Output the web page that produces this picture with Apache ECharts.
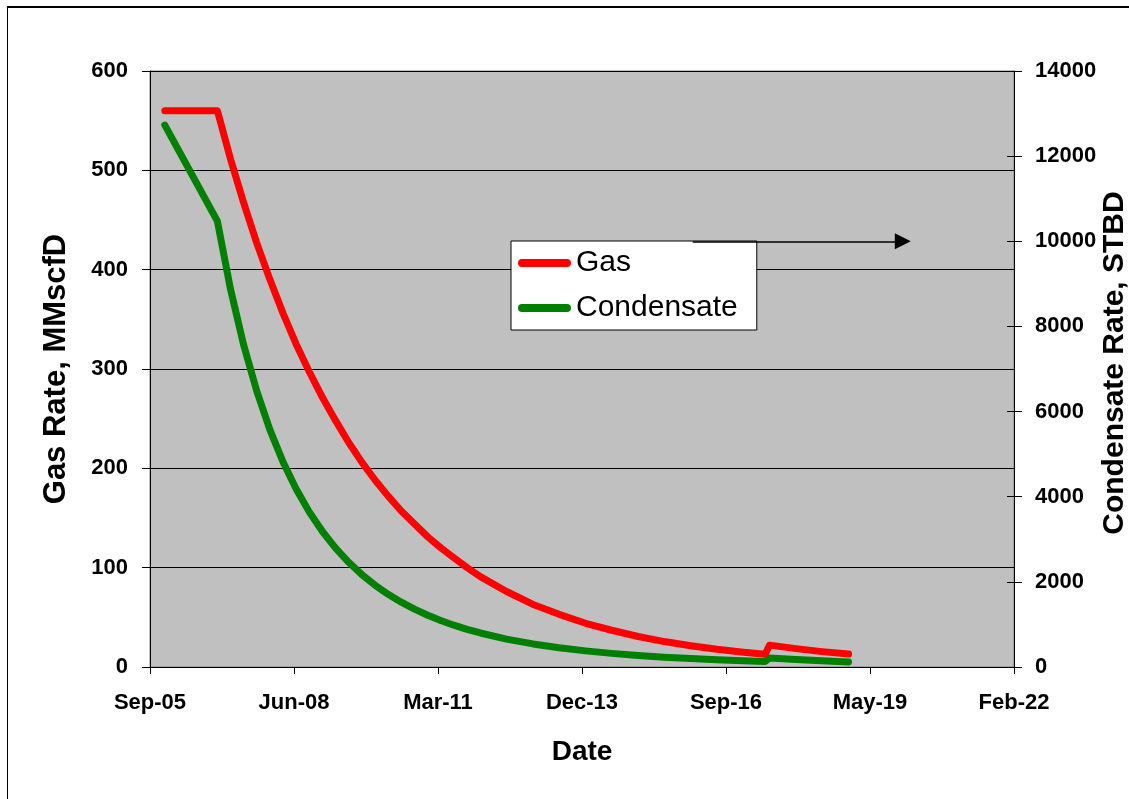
<!DOCTYPE html>
<html>
<head>
<meta charset="utf-8">
<script src="https://cdn.jsdelivr.net/npm/echarts@6/dist/echarts.min.js"></script>
<style>
html,body{margin:0;padding:0;background:#fff;}
#chart{width:1129px;height:799px;}
</style>
</head>
<body>
<div id="chart"></div>
<script>
// ---- data ----
const dates = ['2006-01-01','2007-01-01','2007-04-01','2007-07-01','2007-10-01','2008-01-01','2008-04-01','2008-07-01','2008-10-01','2009-01-01','2009-04-01','2009-07-01','2009-10-01','2010-01-01','2010-04-01','2010-07-01','2010-10-01','2011-01-01','2011-04-01','2011-07-01','2011-10-01','2012-01-01','2012-07-01','2013-01-01','2013-07-01','2014-01-01','2014-07-01','2015-01-01','2015-07-01','2016-01-01','2016-07-01','2017-01-01','2017-06-01','2017-07-01','2018-01-01','2018-07-01','2019-01-01'];
const gasRate = [560,560,512,468,427,390,356,325,297,271,248,226,206,188,172,157,144,131,120,110,100,91,76,63,53,44,37,30.7,25.6,21.4,17.8,14.8,12.8,22,18.5,15.5,13];
const condensateRate = [12730,10475,8893,7581,6486,5569,4815,4180,3638,3176,2793,2460,2169,1920,1708,1522,1359,1215,1091,982,885,799,656,542,452,379,320,271,231,198,170,147,131,210,175,145,120];
const xTickBase = '2005-09-20';   // date of the first x tick (Sep-05)
const xTickStepDays = 1000;
const monthNames = ['Jan','Feb','Mar','Apr','May','Jun','Jul','Aug','Sep','Oct','Nov','Dec'];
const arrowLevel = 10000;          // arrow points at 10000 STBD on the right axis
const arrowFromTo = ['2016-01-15','2020-01-13'];

function toUTC(s){const p=s.split('-').map(Number);return Date.UTC(p[0],p[1]-1,p[2]);}
const baseMs = toUTC(xTickBase);
function dayOffset(s){return (toUTC(s)-baseMs)/86400000;}
function fmtTick(v){const d=new Date(baseMs+v*86400000);return monthNames[d.getUTCMonth()]+'-'+String(d.getUTCFullYear()%100).padStart(2,'0');}

const gasData = dates.map((d,i)=>[dayOffset(d),gasRate[i]]);
const condData = dates.map((d,i)=>[dayOffset(d),condensateRate[i]]);

const FONT = '"Liberation Sans", Arial, sans-serif';
const chart = echarts.init(document.getElementById('chart'));
const labelStyle = {fontFamily:FONT,fontWeight:'bold',fontSize:22,color:'#000'};
const nameStyle = {fontFamily:FONT,fontWeight:'bold',fontSize:31,color:'#000'};

chart.setOption({
  animation:false,
  backgroundColor:'#fff',
  grid:{left:150,right:115,top:71,bottom:132,containLabel:false,outerBoundsMode:'none',
        show:true,backgroundColor:'#c0c0c0',borderColor:'#808080',borderWidth:1},
  legend:{
    left:511,top:241,orient:'vertical',
    backgroundColor:'#fff',borderColor:'#000',borderWidth:1,borderRadius:0,
    padding:[7,19,7,7],itemGap:15,itemWidth:53,itemHeight:8,itemTextGap:6,
    icon:'path://M4,0 L49,0 A4,4 0 0 1 49,8 L4,8 A4,4 0 0 1 4,0 Z',
    textStyle:{fontFamily:FONT,fontSize:30,color:'#000'},
    data:['Gas','Condensate']
  },
  xAxis:{
    type:'value',min:0,max:6000,interval:xTickStepDays,
    name:'Date',nameLocation:'middle',nameGap:71,nameMoveOverlap:false,
    nameTextStyle:Object.assign({},nameStyle,{fontSize:28}),
    axisLine:{show:true,onZero:false,lineStyle:{color:'#000',width:1}},
    axisTick:{show:true,length:7,lineStyle:{color:'#000'}},
    axisLabel:Object.assign({margin:25,formatter:fmtTick},labelStyle),
    splitLine:{show:false}
  },
  yAxis:[
    {type:'value',min:0,max:600,interval:100,position:'left',
     name:'Gas Rate, MMscfD',nameLocation:'middle',nameGap:78,nameMoveOverlap:false,nameTextStyle:nameStyle,
     axisLine:{show:true,lineStyle:{color:'#000',width:1}},
     axisTick:{show:true,length:8,lineStyle:{color:'#000'}},
     axisLabel:Object.assign({margin:22},labelStyle),
     splitLine:{show:true,lineStyle:{color:'#000',width:1}}},
    {type:'value',min:0,max:14000,interval:2000,position:'right',
     name:'Condensate Rate, STBD',nameLocation:'middle',nameGap:86,nameMoveOverlap:false,
     nameTextStyle:Object.assign({},nameStyle,{fontSize:30,padding:[0,0,0,12]}),
     axisLine:{show:true,lineStyle:{color:'#000',width:1}},
     axisTick:{show:true,length:8,lineStyle:{color:'#000'}},
     axisLabel:Object.assign({margin:21,formatter:v=>String(v)},labelStyle),
     splitLine:{show:false}},
    {type:'value',min:0,max:14000,interval:2000,position:'right',
     axisLine:{show:false},
     axisTick:{show:true,inside:true,length:7,lineStyle:{color:'#000'}},
     axisLabel:{show:false},splitLine:{show:false}}
  ],
  series:[
    {name:'Gas',type:'line',yAxisIndex:0,data:gasData,symbol:'none',z:3,
     color:'#ff0000',lineStyle:{color:'#ff0000',width:7,cap:'round',join:'round'}},
    {name:'Condensate',type:'line',yAxisIndex:1,data:condData,symbol:'none',z:2,
     color:'#008000',lineStyle:{color:'#008000',width:7,cap:'round',join:'round'},
     markLine:{silent:true,symbol:['none','triangle'],symbolSize:[16,16],
       label:{show:false},lineStyle:{color:'#000',width:1.5,type:'solid'},
       data:[[{coord:[dayOffset(arrowFromTo[0]),arrowLevel]},{coord:[dayOffset(arrowFromTo[1]),arrowLevel]}]]}}
  ],
  graphic:[
    {type:'line',shape:{x1:7,y1:7,x2:1129,y2:7},style:{stroke:'#000',lineWidth:2},silent:true},
    {type:'line',shape:{x1:7.5,y1:7,x2:7.5,y2:799},style:{stroke:'#000',lineWidth:1},silent:true}
  ]
});
</script>
</body>
</html>
